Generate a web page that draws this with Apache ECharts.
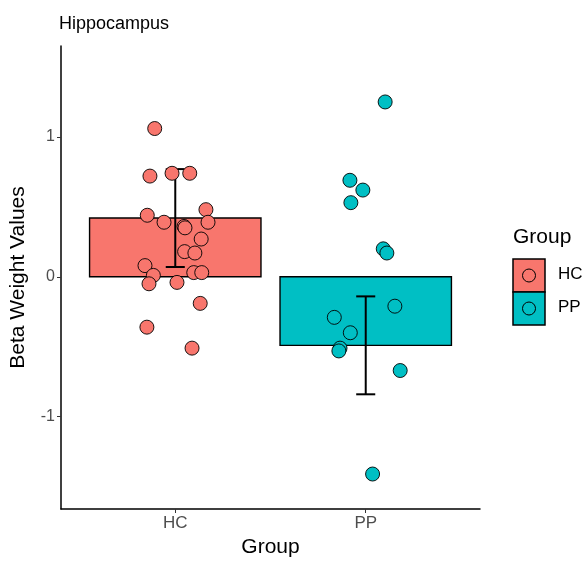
<!DOCTYPE html>
<html>
<head>
<meta charset="utf-8">
<script src="https://cdn.jsdelivr.net/npm/echarts@6/dist/echarts.min.js"></script>
<style>
  html, body { margin: 0; padding: 0; background: #fff; }
  #chart { width: 585px; height: 564px; }
</style>
</head>
<body>
<div id="chart"></div>
<script>
const groups = ["HC", "PP"];
const groupColors = ["#F8766D", "#00BFC4"];
const barValues = [0.42, -0.49];
const errLow = [0.07, -0.84];
const errHigh = [0.77, -0.14];
const yTicks = [-1, 0, 1];

// jittered points (x in group units, HC = 1, PP = 2)
const hcX = [0.892, 0.867, 0.983, 1.076, 1.161, 0.853, 0.941, 1.172, 1.046, 1.051, 1.136,
  1.049, 1.103, 0.841, 0.885, 1.097, 1.139, 0.862, 1.009, 1.131, 0.851, 1.088];
const hcY = [1.06, 0.72, 0.74, 0.74, 0.48, 0.44, 0.39, 0.39, 0.36, 0.35, 0.27,
  0.18, 0.17, 0.08, 0.01, 0.03, 0.03, -0.05, -0.04, -0.19, -0.36, -0.51];
const ppX = [2.102, 1.917, 1.985, 1.922, 2.092, 2.111, 2.153, 1.835, 1.919, 1.865, 1.859, 2.181, 2.036];
const ppY = [1.25, 0.69, 0.62, 0.53, 0.20, 0.17, -0.21, -0.29, -0.40, -0.51, -0.53, -0.67, -1.41];

const FONT = "Liberation Sans, Arial, sans-serif";

function zip(xs, ys) {
  return xs.map((x, i) => [x, ys[i]]);
}

let chart = echarts.init(document.getElementById("chart"));

let barData = barValues.map((v, i) => [i + 1, v, i]);
let errData = groups.map((g, i) => [i + 1, errLow[i], errHigh[i]]);

let option = {
  animation: false,
  backgroundColor: "#fff",
  title: {
    text: "Hippocampus",
    left: 54,
    top: 10,
    textStyle: { fontFamily: FONT, fontSize: 18, fontWeight: "normal", color: "#000" },
  },
  grid: { left: 61, right: 105, top: 46, bottom: 55 },
  xAxis: {
    type: "value",
    min: 0.4,
    max: 2.6,
    name: "Group",
    nameLocation: "middle",
    nameGap: 27,
    nameTextStyle: { fontFamily: FONT, fontSize: 21, color: "#000" },
    axisLine: { onZero: false, lineStyle: { color: "#000", width: 1.5 } },
    axisTick: { show: true, length: 4, customValues: [1, 2], lineStyle: { color: "#333" } },
    axisLabel: {
      customValues: [1, 2],
      formatter: (v) => groups[Math.round(v) - 1],
      fontFamily: FONT,
      fontSize: 17,
      color: "#4D4D4D",
      margin: 6,
    },
    splitLine: { show: false },
  },
  yAxis: {
    type: "value",
    min: -1.66,
    max: 1.65,
    name: "Beta Weight Values",
    nameLocation: "middle",
    nameGap: 32,
    nameTextStyle: { fontFamily: FONT, fontSize: 21, color: "#000" },
    axisLine: { show: true, onZero: false, lineStyle: { color: "#000", width: 1.5 } },
    axisTick: { show: true, length: 4, customValues: yTicks, lineStyle: { color: "#333" } },
    axisLabel: {
      customValues: yTicks,
      fontFamily: FONT,
      fontSize: 16,
      color: "#4D4D4D",
      margin: 6,
    },
    splitLine: { show: false },
  },
  series: [
    {
      name: "bars",
      type: "custom",
      z: 1,
      data: barData,
      renderItem: function (params, api) {
        let x = api.value(0);
        let v = api.value(1);
        let p1 = api.coord([x - 0.45, v]);
        let p2 = api.coord([x + 0.45, 0]);
        return {
          type: "rect",
          shape: {
            x: Math.min(p1[0], p2[0]),
            y: Math.min(p1[1], p2[1]),
            width: Math.abs(p2[0] - p1[0]),
            height: Math.abs(p2[1] - p1[1]),
          },
          style: { fill: groupColors[api.value(2)], stroke: "#000", lineWidth: 1.4 },
        };
      },
    },
    {
      name: "errors",
      type: "custom",
      z: 2,
      data: errData,
      renderItem: function (params, api) {
        let x = api.value(0);
        let lo = api.coord([x, api.value(1)]);
        let hi = api.coord([x, api.value(2)]);
        let hw = api.size([0.05, 0])[0];
        let style = { stroke: "#000", lineWidth: 2 };
        return {
          type: "group",
          children: [
            { type: "line", shape: { x1: lo[0], y1: lo[1], x2: hi[0], y2: hi[1] }, style },
            { type: "line", shape: { x1: lo[0] - hw, y1: lo[1], x2: lo[0] + hw, y2: lo[1] }, style },
            { type: "line", shape: { x1: hi[0] - hw, y1: hi[1], x2: hi[0] + hw, y2: hi[1] }, style },
          ],
        };
      },
    },
    {
      name: "HC",
      type: "scatter",
      z: 3,
      symbolSize: 14,
      data: zip(hcX, hcY),
      itemStyle: { color: groupColors[0], borderColor: "#000", borderWidth: 0.9, opacity: 1 },
    },
    {
      name: "PP",
      type: "scatter",
      z: 3,
      symbolSize: 14,
      data: zip(ppX, ppY),
      itemStyle: { color: groupColors[1], borderColor: "#000", borderWidth: 0.9, opacity: 1 },
    },
  ],
  graphic: [
    {
      type: "text",
      left: 513,
      top: 227,
      style: { text: "Group", font: "21px " + FONT, fill: "#000" },
    },
  ].concat(
    groups.flatMap((g, i) => [
      {
        type: "rect",
        shape: { x: 513, y: 259 + i * 33, width: 32, height: 33 },
        style: { fill: groupColors[i], stroke: "#000", lineWidth: 1.5 },
      },
      {
        type: "circle",
        shape: { cx: 529, cy: 275.5 + i * 33, r: 6.5 },
        style: { fill: groupColors[i], stroke: "#000", lineWidth: 1 },
      },
      {
        type: "text",
        left: 558,
        top: 266 + i * 33,
        style: { text: g, font: "17px " + FONT, fill: "#000" },
      },
    ])
  ),
};

chart.setOption(option);
</script>
</body>
</html>
